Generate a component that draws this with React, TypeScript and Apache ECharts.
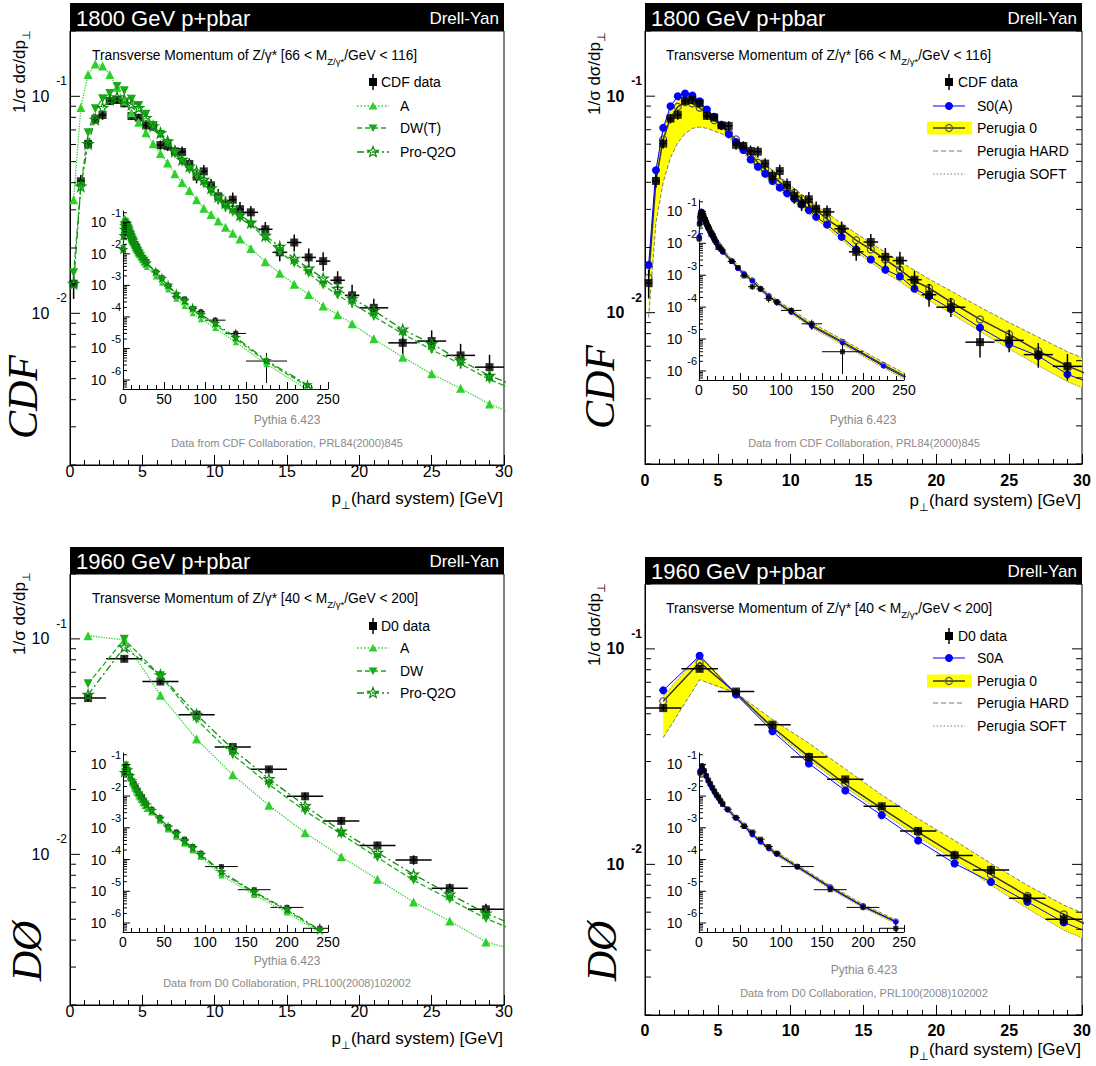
import React, { useEffect, useRef } from 'react';
import * as echarts from 'echarts';

const FONT = '"Liberation Sans", Arial, Helvetica, sans-serif';
const SERIF = '"Liberation Serif", "Times New Roman", Times, serif';

// ---------------- CDF 1800 GeV data ----------------
const CDF_PT = [0.25, 0.75, 1.25, 1.75, 2.25, 2.75, 3.25, 3.75, 4.25, 4.75, 5.25, 5.75, 6.25, 6.75, 7.25, 7.75, 8.25, 8.75, 9.25, 9.75, 10.25, 10.75, 11.25, 11.75, 12.5, 13.5, 14.5, 15.5, 16.5, 17.5, 18.5, 19.5, 21, 23, 25, 27, 29, 40, 47.5, 55, 65, 75, 85, 95, 112.5, 137.5, 175];
const CDF_PT_ERR = [0.25, 0.25, 0.25, 0.25, 0.25, 0.25, 0.25, 0.25, 0.25, 0.25, 0.25, 0.25, 0.25, 0.25, 0.25, 0.25, 0.25, 0.25, 0.25, 0.25, 0.25, 0.25, 0.25, 0.25, 0.5, 0.5, 0.5, 0.5, 0.5, 0.5, 0.5, 0.5, 1, 1, 1, 1, 1, 5, 2.5, 5, 5, 5, 5, 5, 12.5, 12.5, 25];
const CDF_VAL = [0.0137, 0.0406, 0.0604, 0.0788, 0.082, 0.0951, 0.0962, 0.0928, 0.0811, 0.0797, 0.0734, 0.0729, 0.0596, 0.0589, 0.0558, 0.0554, 0.0488, 0.0427, 0.0451, 0.0389, 0.0346, 0.032, 0.0334, 0.0302, 0.0292, 0.0244, 0.0191, 0.0212, 0.0181, 0.0174, 0.0142, 0.0121, 0.0106, 0.00731, 0.00745, 0.0064, 0.00565, 0.00269, 0.00174, 0.00095, 0.000437, 0.000372, 0.000186, 0.000145, 0.000079, 0.00003, 0.000004];
const CDF_ERR = [0.15, 0.07, 0.05, 0.05, 0.05, 0.04, 0.04, 0.04, 0.04, 0.04, 0.05, 0.05, 0.05, 0.05, 0.06, 0.06, 0.06, 0.07, 0.07, 0.07, 0.08, 0.08, 0.08, 0.08, 0.07, 0.08, 0.09, 0.09, 0.1, 0.1, 0.1, 0.12, 0.1, 0.15, 0.12, 0.13, 0.14, 0.12, 0.15, 0.15, 0.2, 0.2, 0.25, 0.25, 0.25, 0.35, 0.8];
const CDF_MC_PT = [0.25, 0.75, 1.25, 1.75, 2.25, 2.75, 3.25, 3.75, 4.25, 4.75, 5.25, 5.75, 6.25, 6.75, 7.25, 7.75, 8.25, 8.75, 9.25, 9.75, 10.25, 10.75, 11.25, 11.75, 12.5, 13.5, 14.5, 15.5, 16.5, 17.5, 18.5, 19.5, 21, 23, 25, 27, 29, 40, 47.5, 55, 65, 75, 85, 95, 112.5, 137.5, 175, 225, 275];

const TL_A = [0.0334, 0.0887, 0.126, 0.141, 0.138, 0.126, 0.11, 0.0951, 0.084, 0.076, 0.0679, 0.0604, 0.0545, 0.0493, 0.044, 0.0401, 0.0368, 0.0334, 0.0305, 0.0285, 0.0266, 0.0249, 0.0234, 0.022, 0.0199, 0.0173, 0.0153, 0.0136, 0.0122, 0.0108, 0.00986, 0.00896, 0.00763, 0.00628, 0.00526, 0.00451, 0.00382, 0.00191, 0.00122, 0.00074, 0.00038, 0.000224, 0.000132, 0.000085, 0.0000447, 0.0000158, 0.00000316, 0.0000005, 0.00000009];
const TL_DW = [0.0154, 0.0385, 0.0679, 0.0877, 0.0975, 0.103, 0.111, 0.106, 0.097, 0.0908, 0.0826, 0.0734, 0.0667, 0.0606, 0.0545, 0.0497, 0.0459, 0.0428, 0.0394, 0.0361, 0.0334, 0.0308, 0.0292, 0.0274, 0.0255, 0.0223, 0.0192, 0.017, 0.0153, 0.0135, 0.0121, 0.0111, 0.00968, 0.00805, 0.00679, 0.00585, 0.00495, 0.00251, 0.00158, 0.000955, 0.000501, 0.000302, 0.000174, 0.000112, 0.0000562, 0.00002, 0.0000038, 0.00000063, 0.00000012];
const TL_PRO = [0.0137, 0.0385, 0.0604, 0.0782, 0.0886, 0.0969, 0.0993, 0.0969, 0.0918, 0.0886, 0.0797, 0.0729, 0.0679, 0.0621, 0.0558, 0.0511, 0.0476, 0.0451, 0.0413, 0.0378, 0.0346, 0.0322, 0.0307, 0.0284, 0.0262, 0.0228, 0.0203, 0.0179, 0.0161, 0.0145, 0.013, 0.0117, 0.0103, 0.00843, 0.00724, 0.00606, 0.00516, 0.00269, 0.0017, 0.00102, 0.000537, 0.000324, 0.000191, 0.00012, 0.000063, 0.0000224, 0.00000417, 0.00000071, 0.00000014];

const TR_S0A = [0.0166, 0.0455, 0.0714, 0.0899, 0.1, 0.1028, 0.1007, 0.0948, 0.0868, 0.0803, 0.0732, 0.0668, 0.0614, 0.0564, 0.051, 0.0472, 0.0438, 0.0406, 0.0378, 0.0356, 0.0336, 0.0316, 0.0297, 0.0277, 0.0255, 0.0224, 0.0196, 0.0176, 0.0158, 0.0147, 0.0129, 0.0119, 0.0104, 0.00853, 0.00714, 0.00631, 0.00519, 0.00275, 0.00162, 0.00107, 0.00066, 0.000363, 0.000214, 0.000138, 0.000069, 0.000025, 0.0000076, 0.00000141, 0.0000003];
const TR_P0 = [0.0145, 0.0406, 0.0631, 0.0794, 0.0893, 0.0938, 0.0925, 0.0884, 0.0823, 0.0775, 0.0732, 0.0678, 0.0631, 0.0588, 0.0543, 0.0492, 0.0459, 0.0431, 0.0401, 0.0378, 0.0358, 0.0336, 0.0316, 0.0298, 0.027, 0.0243, 0.0216, 0.0196, 0.0176, 0.0158, 0.014, 0.013, 0.0112, 0.00931, 0.00794, 0.00665, 0.00568, 0.0028, 0.00168, 0.0011, 0.00069, 0.00038, 0.000225, 0.000145, 0.000073, 0.000027, 0.0000082, 0.00000155, 0.00000033];
const TR_HARD = [0.0095, 0.026, 0.04, 0.052, 0.061, 0.067, 0.071, 0.072, 0.071, 0.069, 0.067, 0.064, 0.061, 0.058, 0.055, 0.0515, 0.0485, 0.0455, 0.0425, 0.0398, 0.0375, 0.0352, 0.0332, 0.0313, 0.0288, 0.0258, 0.0232, 0.021, 0.019, 0.0172, 0.0157, 0.0143, 0.0126, 0.0106, 0.009, 0.0077, 0.0066, 0.0033, 0.002, 0.00127, 0.0008, 0.00044, 0.00026, 0.000168, 0.000085, 0.000032, 0.0000096, 0.00000185, 0.0000004];
const TR_SOFT = [0.016, 0.045, 0.07, 0.086, 0.095, 0.099, 0.098, 0.093, 0.086, 0.079, 0.073, 0.066, 0.06, 0.055, 0.05, 0.046, 0.0425, 0.0395, 0.0368, 0.0345, 0.0325, 0.0305, 0.0287, 0.027, 0.0247, 0.0217, 0.0191, 0.0171, 0.0153, 0.0139, 0.0125, 0.0114, 0.0099, 0.0082, 0.0068, 0.0057, 0.0048, 0.0024, 0.00145, 0.00095, 0.0006, 0.00033, 0.000195, 0.000125, 0.000062, 0.0000225, 0.0000066, 0.00000125, 0.00000026];

// ---------------- D0 1960 GeV data ----------------
const D0_PT = [1.25, 3.75, 6.25, 8.75, 11.25, 13.75, 16.25, 18.75, 21.25, 23.75, 26.25, 28.75, 35, 45, 55, 65, 75, 85, 95, 120, 160, 200, 240];
const D0_PT_ERR = [1.25, 1.25, 1.25, 1.25, 1.25, 1.25, 1.25, 1.25, 1.25, 1.25, 1.25, 1.25, 5, 5, 5, 5, 5, 5, 5, 20, 20, 20, 20];
const D0_VAL = [0.0531, 0.0808, 0.0634, 0.0445, 0.0315, 0.0248, 0.0186, 0.0143, 0.011, 0.00942, 0.00697, 0.00556, 0.00385, 0.00209, 0.0011, 0.00074, 0.000437, 0.000257, 0.000158, 0.00006, 0.0000112, 0.0000031, 0.00000068];
const D0_ERR = [0.03, 0.03, 0.03, 0.03, 0.03, 0.03, 0.04, 0.04, 0.04, 0.05, 0.05, 0.06, 0.06, 0.07, 0.07, 0.08, 0.08, 0.09, 0.1, 0.1, 0.15, 0.2, 0.4];

const BL_A = [0.1035, 0.0989, 0.0547, 0.0343, 0.0234, 0.0169, 0.0126, 0.00975, 0.00766, 0.00601, 0.00491, 0.00392, 0.00302, 0.00166, 0.000891, 0.000525, 0.000316, 0.000191, 0.00012, 0.0000316, 0.0000076, 0.00000214, 0.0000005];
const BL_DW = [0.0619, 0.0996, 0.0674, 0.0422, 0.029, 0.0211, 0.0159, 0.0124, 0.00966, 0.00758, 0.00619, 0.00504, 0.00339, 0.00186, 0.001, 0.000603, 0.000355, 0.000219, 0.000138, 0.000038, 0.0000089, 0.0000025, 0.000000575];
const BL_PRO = [0.0551, 0.0915, 0.068, 0.0445, 0.0308, 0.0224, 0.0168, 0.0128, 0.0102, 0.00807, 0.00653, 0.00533, 0.00355, 0.002, 0.00107, 0.000646, 0.00038, 0.000234, 0.000145, 0.0000417, 0.00000955, 0.00000269, 0.0000006];

const BR_S0A = [0.0642, 0.0929, 0.0614, 0.0415, 0.0294, 0.022, 0.0169, 0.0129, 0.0101, 0.00828, 0.0067, 0.00538, 0.00363, 0.002, 0.00112, 0.000603, 0.000355, 0.000219, 0.000145, 0.0000575, 0.0000129, 0.0000033, 0.00000107];
const BR_P0 = [0.0571, 0.0865, 0.0624, 0.0433, 0.0316, 0.0236, 0.0182, 0.0141, 0.0111, 0.00896, 0.00714, 0.00586, 0.00381, 0.0021, 0.00118, 0.000633, 0.000373, 0.00023, 0.000152, 0.00006, 0.0000135, 0.00000345, 0.00000112];
const BR_HARD = [0.0387, 0.0719, 0.0625, 0.047, 0.0365, 0.0277, 0.021, 0.0163, 0.0129, 0.0101, 0.008, 0.00647, 0.0043, 0.0024, 0.00135, 0.00072, 0.00042, 0.00026, 0.000172, 0.000068, 0.0000152, 0.0000039, 0.00000125];
const BR_SOFT = [0.0603, 0.0938, 0.0615, 0.0423, 0.0305, 0.0228, 0.0175, 0.0134, 0.0105, 0.008, 0.00624, 0.00495, 0.0033, 0.00183, 0.00102, 0.00055, 0.00032, 0.000198, 0.00013, 0.000052, 0.0000117, 0.000003, 0.00000096];

// axis ranges
const MAIN_X = [0, 30];
const INSET_X = [0, 250];
const MAIN_Y = [0.002, 0.2];
const INSET_Y = [5.2e-7, 0.228];

const C_A = '#2cd12c';
const C_DW = '#17ad17';
const C_PRO = '#0e8c0e';
const C_BLUE = '#0000ff';
const C_P0 = '#555555';
const C_BAND = '#ffff00';
const C_EDGE = '#7a7a7a';

const STAR = 'path://M50,2 L61,36 L97,36 L68,57 L79,92 L50,71 L21,92 L32,57 L3,36 L39,36 Z';
const DOWN = 'path://M0,0 L100,0 L50,88 Z';

const STYLES: any = {
  A: { symbol: 'triangle', color: C_A, line: 'dotted', lw: 1.3, open: false, size: 9 },
  DW: { symbol: DOWN, color: C_DW, line: 'dashed', lw: 1.3, open: false, size: 9 },
  PRO: { symbol: STAR, color: C_PRO, line: [7, 3, 2, 3], lw: 1.3, open: true, size: 10 },
  S0A: { symbol: 'circle', color: C_BLUE, line: 'solid', lw: 1, open: false, size: 8 },
  P0: { symbol: 'circle', color: C_P0, lineColor: '#333333', line: 'solid', lw: 1.5, open: true, size: 7 },
};

const PANELS: any[] = [
  {
    main: { left: 70, top: 31, width: 434, height: 434 },
    inset: { left: 123, top: 211, width: 205, height: 178 },
    bar: { x: 70, y: 3, w: 434, h: 28 },
    bold: false, mirror: false, xLabelMargin: -2,
    energy: '1800 GeV p+pbar', mass: '66 < M', massEnd: '/GeV < 116]', exp: 'CDF', expPos: [23, 397],
    yTitle: [19, 30], xTitle: [503, 498], pythia: [287, 420], ref: [287, 443],
    refText: 'Data from CDF Collaboration, PRL84(2000)845', subY: 55,
    data: { xs: CDF_PT, xe: CDF_PT_ERR, ys: CDF_VAL, rel: CDF_ERR },
    curves: [['A', CDF_MC_PT, TL_A, 'A'], ['DW', CDF_MC_PT, TL_DW, 'DW(T)'], ['PRO', CDF_MC_PT, TL_PRO, 'Pro-Q2O']],
    band: null, dataLabel: 'CDF data', legendY: [82, 106, 128, 152], legendX: 373,
  },
  {
    main: { left: 645, top: 31, width: 437, height: 433 },
    inset: { left: 699, top: 200, width: 205, height: 180 },
    bar: { x: 645, y: 3, w: 437, h: 28 },
    bold: true, mirror: true, xLabelMargin: 8,
    energy: '1800 GeV p+pbar', mass: '66 < M', massEnd: '/GeV < 116]', exp: 'CDF', expPos: [600, 387],
    yTitle: [594, 32], xTitle: [1081, 500], pythia: [863, 420], ref: [864, 443],
    refText: 'Data from CDF Collaboration, PRL84(2000)845', subY: 55,
    data: { xs: CDF_PT, xe: CDF_PT_ERR, ys: CDF_VAL, rel: CDF_ERR },
    curves: [['S0A', CDF_MC_PT, TR_S0A, 'S0(A)'], ['P0', CDF_MC_PT, TR_P0, 'Perugia 0']],
    band: { xs: CDF_MC_PT, hard: TR_HARD, soft: TR_SOFT }, dataLabel: 'CDF data', legendY: [82, 106, 128, 151, 174], legendX: 949,
  },
  {
    main: { left: 70, top: 574, width: 434, height: 431 },
    inset: { left: 123, top: 753, width: 205, height: 179 },
    bar: { x: 70, y: 547, w: 434, h: 27 },
    bold: false, mirror: false, xLabelMargin: -2,
    energy: '1960 GeV p+pbar', mass: '40 < M', massEnd: '/GeV < 200]', exp: 'DØ', expPos: [27, 951],
    yTitle: [19, 572], xTitle: [503, 1038], pythia: [287, 961], ref: [287, 983],
    refText: 'Data from D0 Collaboration, PRL100(2008)102002', subY: 598,
    data: { xs: D0_PT, xe: D0_PT_ERR, ys: D0_VAL, rel: D0_ERR },
    curves: [['A', D0_PT, BL_A, 'A'], ['DW', D0_PT, BL_DW, 'DW'], ['PRO', D0_PT, BL_PRO, 'Pro-Q2O']],
    band: null, dataLabel: 'D0 data', legendY: [626, 648, 671, 693], legendX: 373,
  },
  {
    main: { left: 645, top: 584, width: 437, height: 431 },
    inset: { left: 699, top: 753, width: 205, height: 179 },
    bar: { x: 645, y: 557, w: 437, h: 27 },
    bold: true, mirror: true, xLabelMargin: 7,
    energy: '1960 GeV p+pbar', mass: '40 < M', massEnd: '/GeV < 200]', exp: 'DØ', expPos: [602, 951],
    yTitle: [594, 583], xTitle: [1081, 1049], pythia: [864, 970], ref: [864, 993],
    refText: 'Data from D0 Collaboration, PRL100(2008)102002', subY: 608,
    data: { xs: D0_PT, xe: D0_PT_ERR, ys: D0_VAL, rel: D0_ERR },
    curves: [['S0A', D0_PT, BR_S0A, 'S0A'], ['P0', D0_PT, BR_P0, 'Perugia 0']],
    band: { xs: D0_PT, hard: BR_HARD, soft: BR_SOFT }, dataLabel: 'D0 data', legendY: [636, 658, 681, 703, 726], legendX: 949,
  },
];

function pairs(xs: number[], ys: number[]) {
  return xs.map((x, i) => [x, ys[i]]);
}

function tickSeries(gi: number, isMain: boolean, mirror: boolean, bold: boolean) {
  const range = isMain ? MAIN_Y : INSET_Y;
  const data: number[][] = [];
  const e0 = Math.floor(Math.log10(range[0]));
  const e1 = Math.ceil(Math.log10(range[1]));
  for (let e = e0; e <= e1; e++) {
    for (const k of [1, 2, 3, 4, 5, 6, 7, 8, 9]) {
      const v = parseFloat((k * Math.pow(10, e)).toPrecision(6));
      if (v >= range[0] && v <= range[1]) data.push([0, v, k === 1 ? e : 99]);
    }
  }
  const majorLen = isMain ? 10 : 7;
  const minorLen = isMain ? 6 : 4;
  const rich = isMain
    ? {
        b: { fontSize: 16, fontFamily: FONT, fontWeight: bold ? 'bold' : 'normal', lineHeight: 42, color: '#000' },
        s: { fontSize: 12, fontFamily: FONT, fontWeight: bold ? 'bold' : 'normal', lineHeight: 12, verticalAlign: 'top', padding: [0, 0, 0, 7], color: '#000' },
      }
    : {
        b: { fontSize: 14, fontFamily: FONT, lineHeight: 30, color: '#000' },
        s: { fontSize: 11, fontFamily: FONT, lineHeight: 10, verticalAlign: 'top', padding: [0, 0, 0, 5], color: '#000' },
      };
  const gap = isMain ? 3 : 2;
  return {
    type: 'custom',
    xAxisIndex: gi,
    yAxisIndex: gi,
    silent: true,
    z: 10,
    data,
    renderItem: (params: any, api: any) => {
      const cs = params.coordSys;
      const y = api.coord([api.value(0), api.value(1)])[1];
      const ex = api.value(2);
      const major = ex !== 99;
      const len = major ? majorLen : minorLen;
      const children: any[] = [
        { type: 'line', shape: { x1: cs.x, y1: y, x2: cs.x + len, y2: y }, style: { stroke: '#000', lineWidth: 1 } },
      ];
      if (mirror) {
        children.push({ type: 'line', shape: { x1: cs.x + cs.width - len, y1: y, x2: cs.x + cs.width, y2: y }, style: { stroke: '#000', lineWidth: 1 } });
      }
      if (major) {
        children.push({
          type: 'text',
          x: cs.x - gap,
          y,
          style: { text: '{b|10}{s|' + ex + '}', rich, align: 'right', verticalAlign: 'middle', fill: '#000' },
        });
      }
      return { type: 'group', children };
    },
  };
}

function dataSeries(gi: number, d: any, xmax: number, inset: boolean, z: number) {
  const idx = d.xs.map((x: number, i: number) => i).filter((i: number) => d.xs[i] <= xmax);
  const lw = inset ? 1 : 1.5;
  const err = {
    type: 'custom',
    xAxisIndex: gi,
    yAxisIndex: gi,
    silent: true,
    clip: true,
    z,
    data: idx.map((i: number) => [d.xs[i], d.ys[i], d.xe[i], d.ys[i] * d.rel[i]]),
    renderItem: (params: any, api: any) => {
      const x = api.value(0), y = api.value(1), dx = api.value(2), dy = api.value(3);
      const l = api.coord([x - dx, y]);
      const r = api.coord([x + dx, y]);
      const t = api.coord([x, y + dy]);
      const b = api.coord([x, Math.max(y - dy, y * 0.05)]);
      return {
        type: 'group',
        children: [
          { type: 'line', shape: { x1: l[0], y1: l[1], x2: r[0], y2: r[1] }, style: { stroke: '#000', lineWidth: lw } },
          { type: 'line', shape: { x1: t[0], y1: t[1], x2: b[0], y2: b[1] }, style: { stroke: '#000', lineWidth: lw } },
        ],
      };
    },
  };
  const pts = {
    type: 'scatter',
    xAxisIndex: gi,
    yAxisIndex: gi,
    silent: true,
    z,
    symbol: 'rect',
    symbolSize: inset ? 5 : 8,
    itemStyle: { color: '#000' },
    data: idx.map((i: number) => [d.xs[i], d.ys[i]]),
  };
  return [err, pts];
}

function curveSeries(gi: number, key: string, xs: number[], ys: number[], inset: boolean, z: number) {
  const st = STYLES[key];
  return {
    type: 'line',
    xAxisIndex: gi,
    yAxisIndex: gi,
    silent: true,
    z,
    data: pairs(xs, ys),
    symbol: st.symbol,
    symbolSize: inset ? Math.round(st.size * 0.65) : st.size,
    showAllSymbol: true,
    lineStyle: { color: st.lineColor || st.color, width: inset ? Math.min(st.lw, 1.2) : st.lw, type: st.line },
    itemStyle: st.open
      ? { color: 'rgba(255,255,255,0)', borderColor: st.color, borderWidth: 1.2 }
      : { color: st.color },
  };
}

function bandSeries(gi: number, b: any) {
  return [
    {
      type: 'custom',
      xAxisIndex: gi,
      yAxisIndex: gi,
      silent: true,
      clip: true,
      z: 1,
      data: [[b.xs[0], b.hard[0]]],
      renderItem: (params: any, api: any) => {
        const up = b.xs.map((x: number, i: number) => api.coord([x, Math.max(b.hard[i], b.soft[i])]));
        const dn = b.xs.map((x: number, i: number) => api.coord([x, Math.min(b.hard[i], b.soft[i])])).reverse();
        return { type: 'polygon', shape: { points: up.concat(dn) }, style: { fill: C_BAND, stroke: 'none' } };
      },
    },
    {
      type: 'line', xAxisIndex: gi, yAxisIndex: gi, silent: true, z: 2, symbol: 'none',
      data: pairs(b.xs, b.hard), lineStyle: { color: C_EDGE, width: 1, type: 'dashed' },
    },
    {
      type: 'line', xAxisIndex: gi, yAxisIndex: gi, silent: true, z: 2, symbol: 'none',
      data: pairs(b.xs, b.soft), lineStyle: { color: C_EDGE, width: 1, type: 'dotted' },
    },
  ];
}

function triPts(cx: number, cy: number, r: number, down: boolean) {
  return down
    ? [[cx - r, cy - r * 0.8], [cx + r, cy - r * 0.8], [cx, cy + r * 0.9]]
    : [[cx - r, cy + r * 0.8], [cx + r, cy + r * 0.8], [cx, cy - r * 0.9]];
}
function starPts(cx: number, cy: number, R: number) {
  const pts: number[][] = [];
  for (let i = 0; i < 10; i++) {
    const a = -Math.PI / 2 + (i * Math.PI) / 5;
    const rr = i % 2 === 0 ? R : R * 0.42;
    pts.push([cx + rr * Math.cos(a), cy + rr * Math.sin(a)]);
  }
  return pts;
}

function txt(x: number, y: number, text: string, size: number, extra: any = {}) {
  return {
    type: 'text',
    x,
    y,
    silent: true,
    z: 20,
    rotation: extra.rotation || 0,
    style: {
      text,
      fill: extra.fill || '#000',
      fontSize: size,
      fontFamily: extra.family || FONT,
      fontStyle: extra.fontStyle || 'normal',
      fontWeight: extra.fontWeight || 'normal',
      align: extra.align || 'left',
      verticalAlign: extra.verticalAlign || 'middle',
      rich: extra.rich,
    },
  };
}

function legendGraphics(p: any) {
  const g: any[] = [];
  const mx = p.legendX;
  const ys = p.legendY;
  const right = !!p.band;
  const textX = right ? 977 : 400;
  const dataTextX = right ? 958 : 381;
  g.push({ type: 'line', z: 20, shape: { x1: mx, y1: ys[0] - 8, x2: mx, y2: ys[0] + 8 }, style: { stroke: '#000', lineWidth: 1.5 } });
  g.push({ type: 'rect', z: 20, shape: { x: mx - 4, y: ys[0] - 4, width: 8, height: 8 }, style: { fill: '#000' } });
  g.push(txt(dataTextX, ys[0], p.dataLabel, 14));
  const x1 = mx - 16, x2 = mx + 16;
  p.curves.forEach((c: any, i: number) => {
    const y = ys[i + 1];
    const st = STYLES[c[0]];
    if (c[0] === 'P0') {
      g.push({ type: 'rect', z: 19, shape: { x: mx - 22, y: y - 6.5, width: 45, height: 13 }, style: { fill: C_BAND } });
    }
    const dash = st.line === 'dotted' ? [1.5, 2] : st.line === 'dashed' ? [5, 3] : Array.isArray(st.line) ? st.line : null;
    g.push({ type: 'line', z: 20, shape: { x1, y1: y, x2, y2: y }, style: { stroke: st.lineColor || st.color, lineWidth: st.lw, lineDash: dash } });
    if (c[0] === 'A') g.push({ type: 'polygon', z: 21, shape: { points: triPts(mx, y, 4.5, false) }, style: { fill: st.color } });
    if (c[0] === 'DW') g.push({ type: 'polygon', z: 21, shape: { points: triPts(mx, y, 4.5, true) }, style: { fill: st.color } });
    if (c[0] === 'PRO') g.push({ type: 'polygon', z: 21, shape: { points: starPts(mx, y, 5.5) }, style: { fill: 'rgba(255,255,255,0)', stroke: st.color, lineWidth: 1.2 } });
    if (c[0] === 'S0A') g.push({ type: 'circle', z: 21, shape: { cx: mx, cy: y, r: 4 }, style: { fill: C_BLUE } });
    if (c[0] === 'P0') g.push({ type: 'circle', z: 21, shape: { cx: mx, cy: y, r: 3.5 }, style: { fill: 'rgba(255,255,255,0)', stroke: C_P0, lineWidth: 1.2 } });
    g.push(txt(textX, y, c[3], 14));
  });
  if (right) {
    const yH = ys[3], yS = ys[4];
    g.push({ type: 'line', z: 20, shape: { x1, y1: yH, x2, y2: yH }, style: { stroke: C_EDGE, lineWidth: 1, lineDash: [5, 3] } });
    g.push(txt(textX, yH, 'Perugia HARD', 14));
    g.push({ type: 'line', z: 20, shape: { x1, y1: yS, x2, y2: yS }, style: { stroke: C_EDGE, lineWidth: 1, lineDash: [1.5, 2] } });
    g.push(txt(textX, yS, 'Perugia SOFT', 14));
  }
  return g;
}

function buildOption() {
  const grid: any[] = [];
  const xAxis: any[] = [];
  const yAxis: any[] = [];
  const series: any[] = [];
  const graphic: any[] = [];

  PANELS.forEach((p: any, pi: number) => {
    const gi = pi * 2;
    const ii = pi * 2 + 1;
    grid.push({ ...p.main, show: true, borderColor: '#000', borderWidth: 1, backgroundColor: 'rgba(0,0,0,0)', containLabel: false, outerBoundsMode: 'none' });
    grid.push({ ...p.inset, show: false, containLabel: false, outerBoundsMode: 'none' });

    xAxis.push({
      gridIndex: gi, type: 'value', min: MAIN_X[0], max: MAIN_X[1], interval: 5,
      axisLine: { show: true, lineStyle: { color: '#000', width: 1 } },
      axisTick: { show: true, inside: true, length: 10, lineStyle: { color: '#000' } },
      minorTick: { show: true, splitNumber: 5, length: 5, lineStyle: { color: '#000' } },
      splitLine: { show: false }, minorSplitLine: { show: false },
      axisLabel: { fontSize: 16, fontFamily: FONT, color: '#000', margin: p.xLabelMargin, fontWeight: p.bold ? 'bold' : 'normal' },
    });
    xAxis.push({
      gridIndex: ii, type: 'value', min: INSET_X[0], max: INSET_X[1], interval: 50,
      axisLine: { show: true, lineStyle: { color: '#000', width: 1 } },
      axisTick: { show: true, inside: true, length: 7, lineStyle: { color: '#000' } },
      minorTick: { show: true, splitNumber: 5, length: 4, lineStyle: { color: '#000' } },
      splitLine: { show: false }, minorSplitLine: { show: false },
      axisLabel: { fontSize: 14, fontFamily: FONT, color: '#000', margin: 3 },
    });
    yAxis.push({
      gridIndex: gi, type: 'log', logBase: 10, min: MAIN_Y[0], max: MAIN_Y[1],
      axisLine: { show: true, lineStyle: { color: '#000', width: 1 } },
      axisTick: { show: false }, axisLabel: { show: false }, splitLine: { show: false },
    });
    yAxis.push({
      gridIndex: ii, type: 'log', logBase: 10, min: INSET_Y[0], max: INSET_Y[1],
      axisLine: { show: true, lineStyle: { color: '#000', width: 1 } },
      axisTick: { show: false }, axisLabel: { show: false }, splitLine: { show: false },
    });

    const right = !!p.band;
    [gi, ii].forEach((g) => {
      const inset = g === ii;
      const xmax = inset ? INSET_X[1] : MAIN_X[1];
      if (p.band) series.push(...bandSeries(g, p.band));
      series.push(...dataSeries(g, p.data, xmax, inset, right ? 6 : 3));
      p.curves.forEach((c: any) => series.push(curveSeries(g, c[0], c[1], c[2], inset, right ? (c[0] === 'S0A' ? 5 : 4) : 4)));
      series.push(tickSeries(g, !inset, !inset && p.mirror, !inset && p.bold));
    });

    graphic.push({ type: 'rect', z: 15, shape: { x: p.bar.x, y: p.bar.y, width: p.bar.w, height: p.bar.h }, style: { fill: '#000' } });
    graphic.push(txt(p.bar.x + 6, p.bar.y + p.bar.h / 2 + 1, p.energy, 22, { fill: '#fff' }));
    graphic.push(txt(p.bar.x + p.bar.w - 5, p.bar.y + p.bar.h / 2 + 1, 'Drell-Yan', 17, { fill: '#fff', align: 'right' }));
    graphic.push(txt(p.main.left + (right ? 21 : 22), p.subY, '{n|Transverse Momentum of Z/γ* [' + p.mass + '}{sub|Z/γ*}{n|' + p.massEnd + '}', 13.8, {
      rich: {
        n: { fontSize: 13.8, fontFamily: FONT, lineHeight: 22, color: '#000' },
        sub: { fontSize: 9.5, fontFamily: FONT, lineHeight: 10, verticalAlign: 'bottom', color: '#000' },
      },
    }));
    graphic.push(txt(p.yTitle[0], p.yTitle[1], '{n|1/σ dσ/dp}{sub|⊥}', 17, {
      align: 'right', rotation: Math.PI / 2,
      rich: {
        n: { fontSize: 17, fontFamily: FONT, lineHeight: 24, color: '#000' },
        sub: { fontSize: 11, fontFamily: FONT, lineHeight: 11, verticalAlign: 'bottom', color: '#000' },
      },
    }));
    graphic.push(txt(p.xTitle[0], p.xTitle[1], '{n|p}{sub|⊥}{n|(hard system) [GeV]}', 17, {
      align: 'right',
      rich: {
        n: { fontSize: 17, fontFamily: FONT, lineHeight: 24, color: '#000' },
        sub: { fontSize: 11, fontFamily: FONT, lineHeight: 11, verticalAlign: 'bottom', color: '#000' },
      },
    }));
    graphic.push(txt(p.pythia[0], p.pythia[1], 'Pythia 6.423', 12, { fill: '#8a8a8a', align: 'center' }));
    graphic.push(txt(p.ref[0], p.ref[1], p.refText, 11, { fill: '#8a8a8a', align: 'center' }));
    graphic.push(txt(p.expPos[0], p.expPos[1], p.exp, 42, { family: SERIF, fontStyle: 'italic', align: 'center', rotation: Math.PI / 2 }));
    graphic.push(...legendGraphics(p));
  });

  return {
    animation: false,
    backgroundColor: '#ffffff',
    grid,
    xAxis,
    yAxis,
    series,
    graphic: { elements: graphic },
  };
}

export default function App() {
  const ref = useRef<HTMLDivElement>(null);
  useEffect(() => {
    const chart = echarts.init(ref.current as HTMLDivElement, null, { renderer: 'svg' });
    chart.setOption(buildOption() as any);
    return () => chart.dispose();
  }, []);
  return (
    <div
      ref={ref}
      style={{ position: 'absolute', left: 0, top: 0, width: 1096, height: 1066, background: '#fff' }}
    />
  );
}
